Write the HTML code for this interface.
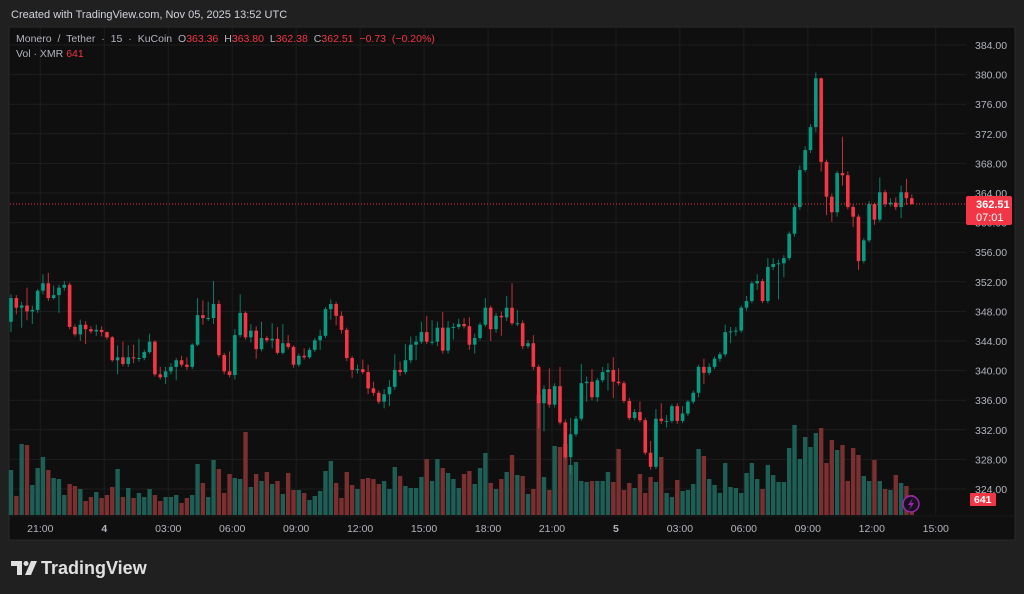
<!DOCTYPE html>
<html><head><meta charset="utf-8">
<style>
html,body{margin:0;padding:0;width:1024px;height:594px;background:#202020;overflow:hidden;font-family:"Liberation Sans",sans-serif}
svg text{font-family:"Liberation Sans",sans-serif}
</style></head>
<body>
<svg id="c" width="1024" height="594" viewBox="0 0 1024 594" xmlns="http://www.w3.org/2000/svg">
<rect x="0" y="0" width="1024" height="594" fill="#202020"/>
<text x="11" y="18" fill="#d1d4dc" font-size="11">Created with TradingView.com, Nov 05, 2025 13:52 UTC</text>
<rect x="9" y="27" width="1006" height="513" fill="#0f0f0f" stroke="#2a2a2a" stroke-width="1"/>
<g id="grid"></g>
<g id="vol"></g>
<g id="candles"></g>
<g id="axes"></g>
<text x="16" y="42" font-size="10.5" fill="#b2b5be" word-spacing="3">Monero / Tether · 15 · KuCoin <tspan fill="#b2b5be">O</tspan><tspan fill="#f23645">363.36</tspan> <tspan fill="#b2b5be">H</tspan><tspan fill="#f23645">363.80</tspan> <tspan fill="#b2b5be">L</tspan><tspan fill="#f23645">362.38</tspan> <tspan fill="#b2b5be">C</tspan><tspan fill="#f23645">362.51</tspan> <tspan fill="#f23645">−0.73 (−0.20%)</tspan></text>
<text x="16" y="57" font-size="10.5" fill="#b2b5be">Vol · XMR <tspan fill="#f23645">641</tspan></text>
<g>
<path d="M11 561 H22 V575 H17 V566 H11 Z" fill="#e0e0e0"/>
<circle cx="26" cy="563.5" r="2.5" fill="#e0e0e0"/>
<path d="M31 561 H37 L31 575 H25 Z" fill="#e0e0e0"/>
<text x="41" y="574" font-size="18" fill="#e0e0e0" font-weight="bold">TradingView</text>
</g>
</svg>
<script>
const closes=[349.8,348.5,348.8,348.0,348.2,350.8,351.8,349.8,350.2,351.2,351.6,345.9,344.9,346.2,345.6,345.3,345.5,345.2,344.5,341.4,341.8,340.9,341.8,341.7,341.7,342.5,343.9,339.5,339.1,339.9,340.5,341.4,340.8,340.5,343.5,347.5,347.1,347.1,349.0,342.1,339.9,339.4,344.8,347.8,344.5,345.4,342.9,344.4,344.1,344.3,342.4,343.7,343.2,340.8,342.0,341.8,342.8,344.1,344.7,348.3,349.0,347.4,345.5,341.7,340.1,340.2,339.8,337.6,337.0,335.8,336.8,337.8,340.1,339.8,341.4,343.5,343.9,345.2,343.9,343.9,345.8,342.7,345.8,345.9,346.3,346.0,343.5,344.4,346.2,348.5,345.6,347.4,347.2,348.5,346.4,346.4,343.3,343.7,340.5,335.6,337.5,335.4,337.9,333.0,328.3,331.4,333.5,338.3,338.5,336.4,338.7,339.8,340.1,338.5,338.3,335.9,333.6,334.4,333.3,328.9,327.0,333.5,333.2,333.2,335.2,333.2,334.2,335.8,337.0,340.5,339.7,340.5,341.6,342.2,345.2,345.3,345.4,348.5,349.4,351.8,352.1,349.4,354.0,354.4,354.5,355.2,358.5,362.1,367.1,369.8,372.9,379.5,368.2,363.5,361.4,366.7,366.4,362.1,360.8,354.8,357.6,362.5,360.4,364.1,362.5,362.7,362.1,364.1,363.3,362.51];
const firstOpen=346.6;
const highs=[350.3,350.2,349.3,351.2,348.8,351.0,353.0,353.2,351.5,351.6,352.1,351.9,346.2,346.9,346.7,346.0,346.2,346.0,345.3,344.7,343.4,343.9,343.4,343.5,344.3,342.8,345.0,344.1,340.5,340.5,341.0,341.7,342.0,341.8,343.7,349.8,349.5,349.3,352.1,349.5,342.4,342.6,345.6,350.3,348.0,346.3,346.0,346.6,344.7,346.4,345.9,346.3,344.8,343.4,342.3,343.0,343.1,344.4,345.5,348.6,349.6,349.3,348.0,345.8,342.0,340.8,341.5,340.8,338.5,337.3,337.5,338.7,342.2,341.2,343.6,344.6,344.7,346.6,347.4,346.8,346.6,347.9,346.7,346.4,347.0,347.1,347.2,345.0,346.5,349.8,348.8,347.8,348.0,350.1,351.8,348.2,346.8,344.1,344.8,340.8,338.0,340.3,338.3,340.5,333.4,333.6,333.9,340.9,339.2,340.2,339.0,340.5,341.0,341.8,340.3,338.6,336.3,334.8,335.8,333.6,330.5,334.8,335.6,334.0,335.5,335.6,335.2,336.0,337.3,340.8,341.6,341.0,341.9,342.5,346.2,345.9,345.9,348.8,350.1,352.1,353.0,352.4,355.2,355.2,355.0,355.6,358.8,362.4,367.7,370.3,373.3,380.3,379.6,368.5,363.9,367.0,371.6,366.9,362.4,361.1,357.9,362.9,362.7,366.1,364.4,363.3,363.4,365.0,365.9,363.8];
const lows=[345.2,347.6,345.8,346.8,346.3,347.8,350.3,349.4,349.6,347.8,350.8,345.6,344.6,344.0,343.6,345.0,344.7,344.6,344.2,341.2,339.5,340.6,340.5,341.0,341.2,341.4,342.3,339.2,338.8,338.2,339.5,338.7,340.5,340.1,340.2,343.3,346.2,346.7,346.3,341.8,339.5,339.1,338.8,344.5,344.2,343.8,341.6,342.6,343.8,343.0,342.2,342.2,342.9,340.4,340.5,341.5,341.6,342.5,342.8,344.4,346.9,346.1,345.0,341.3,339.0,339.6,339.5,336.8,336.6,335.5,334.9,335.2,337.4,339.3,339.5,341.0,341.4,343.6,343.6,343.5,343.3,342.3,342.3,344.2,345.6,345.7,342.8,342.3,344.1,345.9,344.0,345.1,344.7,346.7,346.1,346.0,342.9,343.0,340.1,332.2,331.8,335.0,335.0,332.7,328.0,326.0,331.1,333.2,335.8,336.0,335.8,338.4,337.3,336.3,338.0,335.6,333.3,333.3,333.0,328.6,326.6,326.7,332.8,332.3,332.9,332.8,332.9,333.9,335.5,336.4,338.2,339.4,340.2,341.2,341.9,343.7,344.7,345.1,348.1,349.1,350.9,349.1,349.1,353.6,349.6,352.6,354.9,358.1,361.7,366.8,369.4,372.2,366.9,361.0,360.1,360.8,365.0,361.8,359.4,353.6,354.5,357.3,359.7,360.1,362.1,362.2,361.7,360.6,362.4,362.4];
const volumes=[45,19,71,70,30,47,58,45,37,36,20,31,29,26,14,18,23,17,20,28,46,18,27,17,22,18,26,20,14,18,18,20,12,17,20,51,32,18,55,46,22,41,37,36,83,28,41,34,43,31,34,21,42,25,25,22,15,19,24,44,54,32,17,43,30,26,36,37,36,31,34,26,48,39,29,27,27,38,56,34,56,47,42,36,27,41,44,31,47,62,32,26,36,43,60,40,39,21,26,120,38,25,69,68,71,50,53,34,33,34,34,34,43,33,66,25,32,27,41,22,38,33,58,22,18,35,24,25,31,66,59,36,30,22,52,28,27,22,42,52,36,26,50,40,33,33,67,90,56,78,68,82,87,52,75,65,70,34,67,60,39,34,55,34,26,25,40,32,29,20];
const priceTicks=[384,380,376,372,368,364,360,356,352,348,344,340,336,332,328,324];
const timeLabels=["21:00","4","03:00","06:00","09:00","12:00","15:00","18:00","21:00","5","03:00","06:00","09:00","12:00","15:00"];
const timeLabelIdx=[5.5,17.5,29.5,41.5,53.5,65.5,77.5,89.5,101.5,113.5,125.5,137.5,149.5,161.5,173.5];
const lastPrice=362.51;

const NS="http://www.w3.org/2000/svg";
function mk(tag,attrs,parent){const e=document.createElementNS(NS,tag);for(const k in attrs)e.setAttribute(k,attrs[k]);parent.appendChild(e);return e;}
const xOf=i=>11+5.33*i;
const yOf=p=>45+(384-p)*7.4;
const vBase=515, vScale=1.0;
const G="#089981",R="#f23645",GV="#1e5e55",RV="#7a2f31";
const grid=document.getElementById('grid'),vol=document.getElementById('vol'),cg=document.getElementById('candles'),ax=document.getElementById('axes');

priceTicks.forEach(p=>{
  const l=mk('line',{x1:10,x2:966,y1:yOf(p),y2:yOf(p),stroke:"#1e1e1e","stroke-width":1},grid);
  
  
  const t=mk('text',{x:975,y:yOf(p)+4,fill:"#b2b5be","font-size":10.5},ax);
  t.textContent=p.toFixed(2);
  
  
});
timeLabels.forEach((s,k)=>{
  const x=xOf(timeLabelIdx[k]);
  const l=mk('line',{x1:x,x2:x,y1:28,y2:515,stroke:"#1e1e1e","stroke-width":1},grid);
  
  
  const t=mk('text',{x:x,y:532,fill:"#b2b5be","font-size":10.5,"text-anchor":"middle","font-weight":(s.length===1?"bold":"normal")},ax);
  t.textContent=s;
  
  
});

closes.forEach((c,i)=>{
  const o=i===0?firstOpen:closes[i-1];
  const up=c>=o;
  const x=xOf(i);
  const vh=volumes[i]*vScale;
  const vb=mk('rect',{x:x-2.2,y:vBase-vh,width:4.4,height:vh,fill:up?GV:RV},vol);
  
  
  const w=mk('line',{x1:x,x2:x,y1:yOf(highs[i]),y2:yOf(lows[i]),stroke:up?G:R,"stroke-width":1,opacity:0.8},cg);
  
  
  const top=yOf(Math.max(o,c)),bot=yOf(Math.min(o,c));
  const b=mk('rect',{x:x-1.8,y:top,width:3.6,height:Math.max(1,bot-top),fill:up?G:R},cg);
  
  
});

const ly=yOf(lastPrice);
const pl=mk('line',{x1:10,x2:966,y1:ly,y2:ly,stroke:R,"stroke-width":1,"stroke-dasharray":"1,2"},ax);


const pb=mk('rect',{x:966,y:ly-8,width:46,height:29,fill:R,rx:2},ax);


const pt=mk('text',{x:976,y:ly+4,fill:"#fff","font-size":11,"font-weight":"bold"},ax);
pt.textContent=lastPrice.toFixed(2);


const ct=mk('text',{x:976,y:ly+17,fill:"#fff","font-size":11},ax);
ct.textContent="07:01";


const vbx=mk('rect',{x:970,y:493,width:26,height:13,fill:R,rx:1},ax);


const vt=mk('text',{x:974,y:503,fill:"#fff","font-size":10.5,"font-weight":"bold"},ax);
vt.textContent="641";


const ic=mk('circle',{cx:911,cy:504,r:8,fill:"#1a1020",stroke:"#9c27b0","stroke-width":1.5},ax);


const bolt=mk('path',{d:"M913 498 L908 505 L911 505 L909 510 L914 503 L911 503 Z",fill:"#9c27b0"},ax);


const sep=mk('line',{x1:10,x2:1014,y1:516,y2:516,stroke:"#1a1a1a","stroke-width":1},ax);


</script>
</body></html>
